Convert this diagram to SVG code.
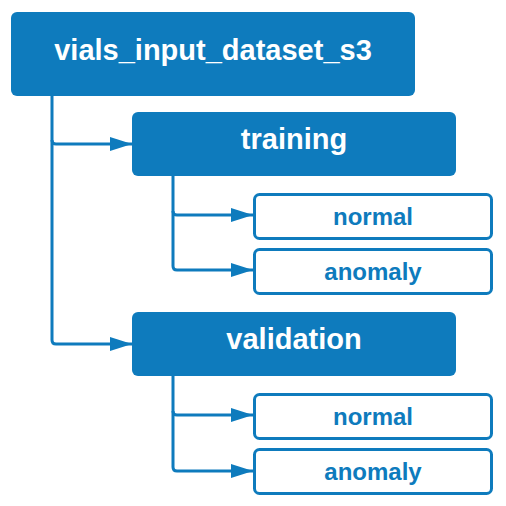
<svg xmlns="http://www.w3.org/2000/svg" width="506" height="506" viewBox="0 0 506 506">
<style>
.fill{fill:#0e7bbd}
.out{fill:#fff;stroke:#0e7bbd;stroke-width:3}
.wt{fill:#fff;font-family:"Liberation Sans",Arial,sans-serif;font-weight:bold;text-anchor:middle;font-size:29px}
.bt{fill:#0e7bbd;font-family:"Liberation Sans",Arial,sans-serif;font-weight:bold;text-anchor:middle;font-size:24px}
.ln{fill:none;stroke:#0e7bbd;stroke-width:3;stroke-linejoin:round}
</style>
<defs>
<marker id="ah" markerUnits="userSpaceOnUse" markerWidth="22" markerHeight="14" refX="22" refY="7" orient="auto">
<path d="M0,0 L22,7 L0,14 Z" fill="#0e7bbd"/>
</marker>
</defs>
<g id="connectors">
<path class="ln" d="M52,96 V140 Q52,144 56,144 H132" marker-end="url(#ah)"/>
<path class="ln" d="M52,140 V340 Q52,344 56,344 H132" marker-end="url(#ah)"/>
<path class="ln" d="M173,176 V211 Q173,215 177,215 H253" marker-end="url(#ah)"/>
<path class="ln" d="M173,211 V266 Q173,270 177,270 H253" marker-end="url(#ah)"/>
<path class="ln" d="M173,376 V411 Q173,415 177,415 H253" marker-end="url(#ah)"/>
<path class="ln" d="M173,411 V467 Q173,471 177,471 H253" marker-end="url(#ah)"/>
</g>
<g id="root">
<rect class="fill" x="11" y="12" width="404" height="84" rx="6"/>
<text class="wt" x="213" y="60">vials_input_dataset_s3</text>
</g>
<g id="training">
<rect class="fill" x="132" y="112" width="324" height="64" rx="6"/>
<text class="wt" x="294" y="149">training</text>
</g>
<g id="training_normal">
<rect class="out" x="254.5" y="194.5" width="237" height="44" rx="5"/>
<text class="bt" x="373" y="225">normal</text>
</g>
<g id="training_anomaly">
<rect class="out" x="254.5" y="249.5" width="237" height="44" rx="5"/>
<text class="bt" x="373" y="280">anomaly</text>
</g>
<g id="validation">
<rect class="fill" x="132" y="312" width="324" height="64" rx="6"/>
<text class="wt" x="294" y="349">validation</text>
</g>
<g id="validation_normal">
<rect class="out" x="254.5" y="394.5" width="237" height="44" rx="5"/>
<text class="bt" x="373" y="425">normal</text>
</g>
<g id="validation_anomaly">
<rect class="out" x="254.5" y="449.5" width="237" height="44" rx="5"/>
<text class="bt" x="373" y="480">anomaly</text>
</g>
</svg>
